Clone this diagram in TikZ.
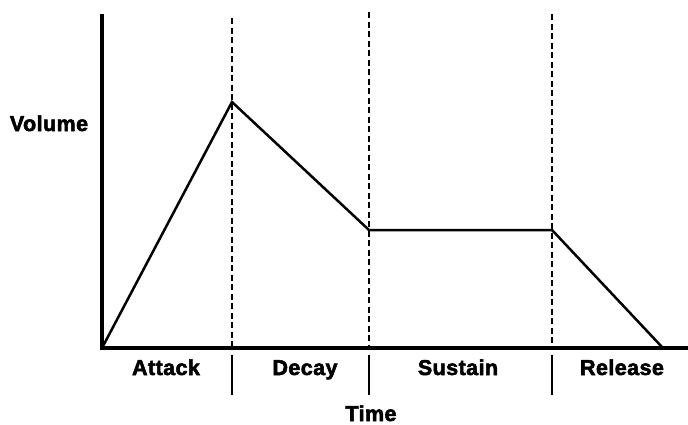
\documentclass[tikz,border=0pt]{standalone}
\usepackage{fontspec}
\setmainfont{Liberation Sans}[BoldFeatures={FakeBold=2.5,LetterSpace=2}]
\begin{document}
\begin{tikzpicture}[x=1pt,y=-1pt,
  axis/.style={line width=3.5pt},
  envelope/.style={line width=2.5pt, line join=miter},
  phase/.style={line width=2.6pt, dash pattern=on 6pt off 3.5pt},
  tick/.style={line width=1.6pt},
  lbl/.style={font=\fontsize{21.5}{24}\selectfont\bfseries, inner sep=0pt, anchor=base}]
\useasboundingbox (0,0) rectangle (688,424);
% axes
\coordinate (origin) at (102,348);
\coordinate (ytop) at (102,16);
\coordinate (xend) at (688,348);
% envelope corners
\coordinate (peak) at (232,102);
\coordinate (sus1) at (369,230);
\coordinate (sus2) at (552,230);
\coordinate (rel) at (662,347);
% phase boundaries
\coordinate (d1top) at (232,18);
\coordinate (d1bot) at (232,348);
\coordinate (d2top) at (369,12);
\coordinate (d2bot) at (369,348);
\coordinate (d3top) at (552,14);
\coordinate (d3bot) at (552,348);
\coordinate (t1a) at (232,355);
\coordinate (t1b) at (232,395);
\coordinate (t2a) at (369,355);
\coordinate (t2b) at (369,395);
\coordinate (t3a) at (552,355);
\coordinate (t3b) at (552,395);

\draw[phase] (d1top) -- (d1bot);
\draw[phase] (d2top) -- (d2bot);
\draw[phase] (d3top) -- (d3bot);
\draw[tick] (t1a) -- (t1b);
\draw[tick] (t2a) -- (t2b);
\draw[tick] (t3a) -- (t3b);

\draw[envelope] (origin) -- (peak) -- (sus1) -- (sus2) -- (rel);
\draw[axis, line cap=rect] (ytop) -- (origin) -- (xend);

% labels
\node[lbl] (vol) at (49,131) {Volume};
\node[lbl] (att) at (166,375) {Attack};
\node[lbl] (dec) at (305,375) {Decay};
\node[lbl] (sus) at (458,375) {Sustain};
\node[lbl] (rls) at (622,375) {Release};
\node[lbl] (time) at (371,421) {Time};
\end{tikzpicture}
\end{document}
